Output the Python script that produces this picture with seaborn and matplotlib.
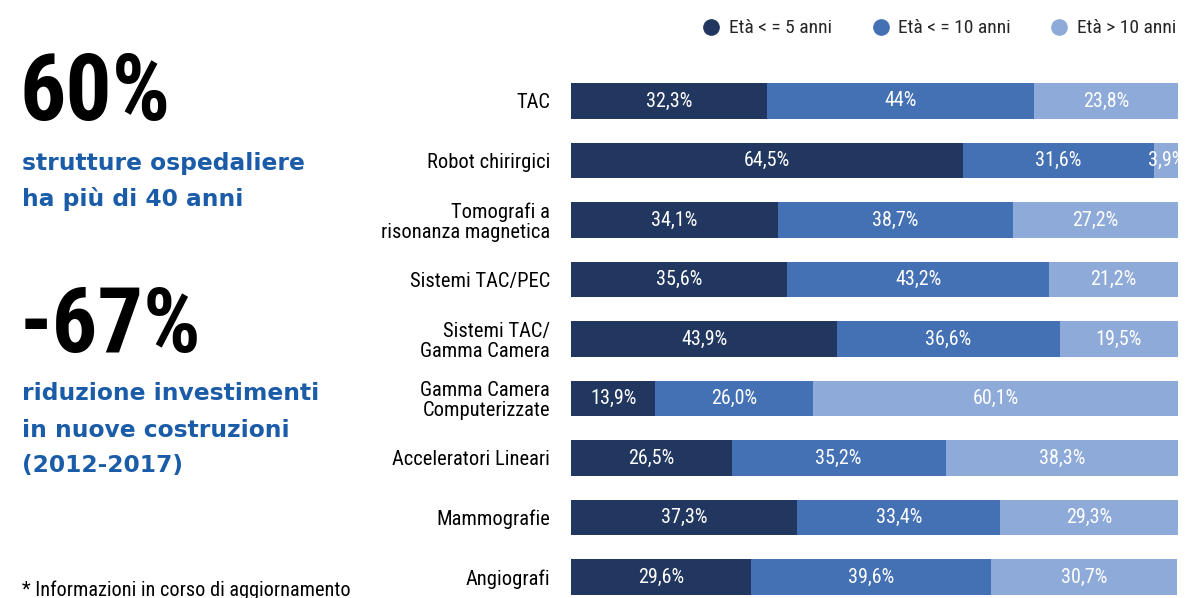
import matplotlib
matplotlib.use("Agg")
import matplotlib.pyplot as plt
from matplotlib import font_manager as fm
from matplotlib.lines import Line2D
import pandas as pd
import seaborn as sns

# ---- data -------------------------------------------------------------
categories = [
    "TAC",
    "Robot chirirgici",
    "Tomografi a\nrisonanza magnetica",
    "Sistemi TAC/PEC",
    "Sistemi TAC/\nGamma Camera",
    "Gamma Camera\nComputerizzate",
    "Acceleratori Lineari",
    "Mammografie",
    "Angiografi",
]
labels_le5 = ["32,3%", "64,5%", "34,1%", "35,6%", "43,9%", "13,9%", "26,5%", "37,3%", "29,6%"]
labels_le10 = ["44%", "31,6%", "38,7%", "43,2%", "36,6%", "26,0%", "35,2%", "33,4%", "39,6%"]
labels_gt10 = ["23,8%", "3,9%", "27,2%", "21,2%", "19,5%", "60,1%", "38,3%", "29,3%", "30,7%"]
series_names = ["Età < = 5 anni", "Età < = 10 anni", "Età > 10 anni"]


def to_value(s):
    return float(s.rstrip("%").replace(",", "."))


age_le5 = [to_value(s) for s in labels_le5]
age_le10 = [to_value(s) for s in labels_le10]
age_gt10 = [to_value(s) for s in labels_gt10]

colors = ["#22375f", "#4470b4", "#8eaad8"]
text_blue = "#1b5ca8"

# ---- fonts ------------------------------------------------------------
sns.set_theme(style="white")
available = {f.name for f in fm.fontManager.ttflist}
narrow_candidates = ["Roboto Condensed", "Liberation Sans Narrow", "Open Sans Condensed",
                     "DejaVu Sans Condensed", "Noto Sans Condensed"]
narrow = next((f for f in narrow_candidates if f in available), "DejaVu Sans")
plt.rcParams["font.family"] = [narrow, "DejaVu Sans"]

# ---- figure -----------------------------------------------------------
W, H = 1186, 598
fig = plt.figure(figsize=(W / 100, H / 100), dpi=100)


def fx(px):
    return px / W


def fy(py):
    return 1 - py / H


# bars area
ax_left, ax_right = 571, 1178
ax_top, ax_bottom = 71.25, 598
ax = fig.add_axes([fx(ax_left), fy(ax_bottom), (ax_right - ax_left) / W, (ax_bottom - ax_top) / H])

df = pd.DataFrame({
    "categoria": categories,
    "s1": age_le5,
    "s2": [a + b for a, b in zip(age_le5, age_le10)],
    "s3": [a + b + c for a, b, c in zip(age_le5, age_le10, age_gt10)],
})

# stacked look: draw cumulative totals from the largest to the smallest
for col, c in zip(["s3", "s2", "s1"], colors[::-1]):
    sns.barplot(data=df, x=col, y="categoria", orient="h", color=c, saturation=1,
                width=0.6, errorbar=None, ax=ax, linewidth=0)

for i in range(len(categories)):
    starts = [0, age_le5[i], age_le5[i] + age_le10[i]]
    vals = [age_le5[i], age_le10[i], age_gt10[i]]
    labs = [labels_le5[i], labels_le10[i], labels_gt10[i]]
    for s, v, lab in zip(starts, vals, labs):
        ax.text(s + v / 2, i, lab, ha="center", va="center", color="white",
                fontsize=14.5, clip_on=False)

ax.set_xlim(0, 100)
n_units = (ax_bottom - ax_top) / 59.5
ax.set_ylim(-0.5 + n_units, -0.5)
ax.set_xlabel("")
ax.set_ylabel("")
ax.set_xticks([])
ax.tick_params(axis="y", length=0, pad=15, labelsize=14.8, labelcolor="black")
for lbl in ax.get_yticklabels():
    lbl.set_multialignment("right")
    lbl.set_linespacing(1.05)
sns.despine(ax=ax, left=True, bottom=True)

# legend
handles = [Line2D([], [], marker="o", linestyle="", markersize=11, color=c) for c in colors]
fig.legend(handles, series_names, loc="upper right", bbox_to_anchor=(1.008, 1.0),
           ncol=3, frameon=False, fontsize=14, handlelength=1.0, handletextpad=0.4,
           columnspacing=2.0, borderaxespad=0.6)

# left panel texts
sub = ["DejaVu Sans"]
sub_size = 16.8
fig.text(fx(20), fy(120), "60%", fontsize=66, fontweight="bold", color="black", va="baseline")
fig.text(fx(22), fy(170), "strutture ospedaliere", fontsize=sub_size, color=text_blue,
         family=sub, fontweight="bold", va="baseline")
fig.text(fx(22), fy(206), "ha più di 40 anni", fontsize=sub_size, color=text_blue,
         family=sub, fontweight="bold", va="baseline")
fig.text(fx(20), fy(352), "-67%", fontsize=65, fontweight="bold", color="black", va="baseline")
fig.text(fx(22), fy(400), "riduzione investimenti", fontsize=sub_size, color=text_blue,
         family=sub, fontweight="bold", va="baseline")
fig.text(fx(22), fy(437), "in nuove costruzioni", fontsize=sub_size, color=text_blue,
         family=sub, fontweight="bold", va="baseline")
fig.text(fx(22), fy(472), "(2012-2017)", fontsize=sub_size, color=text_blue,
         family=sub, fontweight="bold", va="baseline")
fig.text(fx(22), fy(596), "* Informazioni in corso di aggiornamento", fontsize=14.6,
         color="black", va="baseline")

fig.savefig("out.png", dpi=100)
